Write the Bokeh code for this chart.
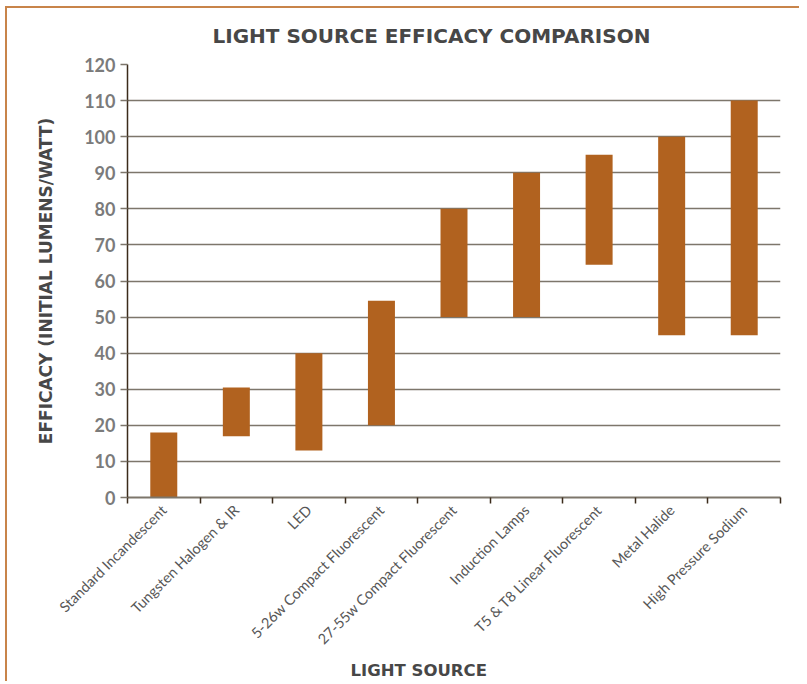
import math
from bokeh.plotting import figure
from bokeh.models import Range1d, FixedTicker, Title, ColumnDataSource
from bokeh.embed import file_html
from bokeh.resources import INLINE

categories = [
    "Standard Incandescent",
    "Tungsten Halogen & IR",
    "LED",
    "5-26w Compact Fluorescent",
    "27-55w Compact Fluorescent",
    "Induction Lamps",
    "T5 & T8 Linear Fluorescent",
    "Metal Halide",
    "High Pressure Sodium",
]
low_efficacy = [0, 17, 13, 20, 50, 50, 64.5, 45, 45]
high_efficacy = [18, 30.5, 40, 54.5, 80, 90, 95, 100, 110]
y_ticks = list(range(0, 121, 10))

TITLE = "LIGHT SOURCE EFFICACY COMPARISON"
Y_TITLE = "EFFICACY (INITIAL LUMENS/WATT)"
X_TITLE = "LIGHT SOURCE"

BAR = "#b1621f"
GRID = "#7d766b"
AXIS = "#3b2b1b"
BORDER = "#c8844a"

W, H = 799, 676
FL, FR, FT, FB = 127, 780, 64, 497

n = len(categories)
centers = [i + 0.5 for i in range(n)]
src = ColumnDataSource(dict(x=centers, lo=low_efficacy, hi=high_efficacy, name=categories))

grad = f"linear-gradient({BORDER}, {BORDER})"
p = figure(
    frame_width=FR - FL, frame_height=FB - FT,
    x_range=Range1d(0, n), y_range=Range1d(0, 120),
    output_backend="svg", toolbar_location=None,
    min_border_left=FL, min_border_right=W - FR,
    min_border_top=FT, min_border_bottom=H - FB,
    styles={
        "background-color": "white",
        "background-image": f"{grad}, {grad}",
        "background-size": "100% 2px, 2px 100%",
        "background-position": "5px 6px, 5px 6px",
        "background-repeat": "no-repeat",
    },
)
p.outline_line_color = None
p.border_fill_color = None
p.background_fill_color = "white"

p.vbar(x="x", width=0.372, bottom="lo", top="hi", source=src,
       fill_color=BAR, line_color=None)

# title
p.title.text = TITLE
p.title.align = "left"
p.title.offset = 85
p.title.text_font = "DejaVu Sans"
p.title.text_font_style = "bold"
p.title.text_font_size = "20px"
p.title.text_color = "#474747"
p.title.standoff = 34

# y axis
ya = p.yaxis[0]
ya.ticker = FixedTicker(ticks=y_ticks)
ya.axis_line_color = AXIS
ya.axis_line_width = 1.5
ya.major_tick_line_color = GRID
ya.major_tick_line_width = 1.5
ya.major_tick_out = 7
ya.major_tick_in = 0
ya.minor_tick_line_color = None
ya.major_label_standoff = 5
ya.major_label_text_font = "Lato"
ya.major_label_text_font_style = "bold"
ya.major_label_text_font_size = "18px"
ya.major_label_text_color = "#7b7b7b"
ya.axis_label = Y_TITLE
ya.axis_label_text_font = "DejaVu Sans"
ya.axis_label_text_font_style = "bold"
ya.axis_label_text_font_size = "17px"
ya.axis_label_text_color = "#474747"
ya.axis_label_standoff = 25

# x axis
xa = p.xaxis[0]
xa.ticker = FixedTicker(ticks=centers, minor_ticks=list(range(n + 1)))
xa.major_label_overrides = {c: name for c, name in zip(centers, categories)}
xa.major_label_orientation = math.pi / 4
xa.major_tick_line_color = None
xa.major_tick_out = 0
xa.major_tick_in = 0
xa.minor_tick_line_color = AXIS
xa.minor_tick_line_width = 1.5
xa.minor_tick_out = 6
xa.minor_tick_in = 0
xa.axis_line_color = GRID
xa.axis_line_width = 2
xa.major_label_standoff = 4
xa.major_label_text_font = "Lato"
xa.major_label_text_font_size = "14.5px"
xa.major_label_text_color = "#575757"

p.add_layout(Title(text=X_TITLE, align="left", offset=223,
                   text_font="DejaVu Sans", text_font_style="bold",
                   text_font_size="16.5px", text_color="#474747", standoff=4), "below")

p.xgrid.visible = False
p.ygrid.ticker = FixedTicker(ticks=y_ticks)
p.ygrid.grid_line_color = GRID
p.ygrid.grid_line_width = 1.5

open("out.html", "w").write(file_html(p, INLINE))
